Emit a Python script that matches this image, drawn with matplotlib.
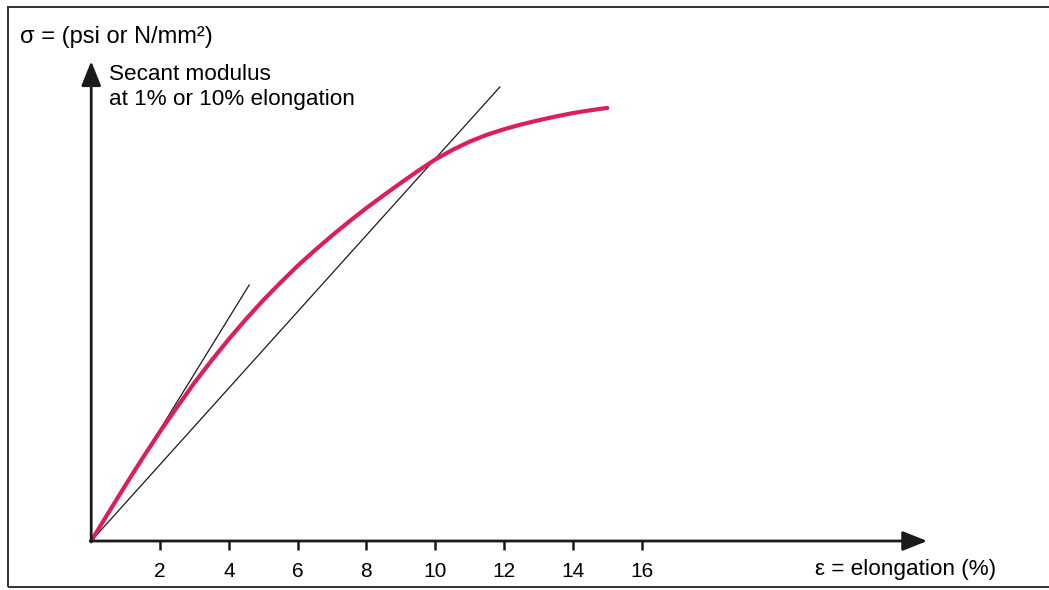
import matplotlib.pyplot as plt
from matplotlib.patches import Rectangle

# stress-strain curve (elongation %, stress in arbitrary units)
strain = [0, 0.5, 1, 1.5, 2, 2.5, 3, 3.5, 4, 4.5, 5, 5.5, 6, 6.5, 7, 7.5,
          8, 8.5, 9, 9.5, 10, 10.5, 11, 11.5, 12, 12.5, 13, 13.5, 14, 14.5, 15]
stress = [0, 0.82, 1.63, 2.42, 3.18, 3.90, 4.60, 5.25, 5.87, 6.45, 7.0, 7.51, 8.0, 8.45, 8.88, 9.29,
          9.68, 10.05, 10.41, 10.76, 11.09, 11.37, 11.61, 11.81, 11.97, 12.11, 12.23, 12.34, 12.44, 12.52, 12.59]

# secant lines (1% and 10%), start and end points
secant_1_x = [0, 4.59]
secant_1_y = [0, 7.44]
secant_10_x = [0, 11.88]
secant_10_y = [0, 13.2]

tick_values = [2, 4, 6, 8, 10, 12, 14, 16]

plt.rcParams['font.family'] = ['Liberation Sans', 'DejaVu Sans']

fig = plt.figure(figsize=(10.49, 5.9), dpi=100)
ax = fig.add_axes([0, 0, 1, 1])
ax.set_xlim(-2.651, 27.84)
ax.set_ylim(-1.424, 15.727)
ax.axis('off')

# frame around the figure
fig.patches.append(Rectangle((8 / 1049, 1 - 587 / 590), 1.1, (587 - 7) / 590,
                             transform=fig.transFigure, fill=False,
                             edgecolor='#333333', lw=1.4))

# axes with arrow heads
axis_color = '#1a1a1a'
ax.annotate('', xy=(24.3, 0), xytext=(-0.03, 0),
            arrowprops=dict(arrowstyle='-|>,head_length=0.5,head_width=0.2', lw=2,
                            color=axis_color, mutation_scale=30, shrinkA=0, shrinkB=0))
ax.annotate('', xy=(0, 13.95), xytext=(0, -0.03),
            arrowprops=dict(arrowstyle='-|>,head_length=0.5,head_width=0.2', lw=2,
                            color=axis_color, mutation_scale=30, shrinkA=0, shrinkB=0))

ax.vlines(tick_values, -0.25, 0, color=axis_color, lw=1.8)
for t in tick_values:
    ax.text(t, -0.88, str(t), ha='center', va='center', fontsize=15)

# lines
ax.plot(secant_1_x, secant_1_y, color='#1a1a1a', lw=0.9)
ax.plot(secant_10_x, secant_10_y, color='#1a1a1a', lw=0.9)
ax.plot(strain, stress, color='#dc1f5c', lw=3, solid_capstyle='round',
        solid_joinstyle='round')

# labels
fig.text(20 / 1049, 1 - 37 / 590, 'σ = (psi or N/mm²)', ha='left', va='center', fontsize=17)
fig.text(109 / 1049, 1 - 75 / 590, 'Secant modulus', ha='left', va='center', fontsize=16.2)
fig.text(109 / 1049, 1 - 99 / 590, 'at 1% or 10% elongation', ha='left', va='center', fontsize=16.2)
fig.text(815 / 1049, 1 - 570 / 590, 'ε = elongation (%)', ha='left', va='center', fontsize=16.2)

fig.savefig('out.png', dpi=100)
